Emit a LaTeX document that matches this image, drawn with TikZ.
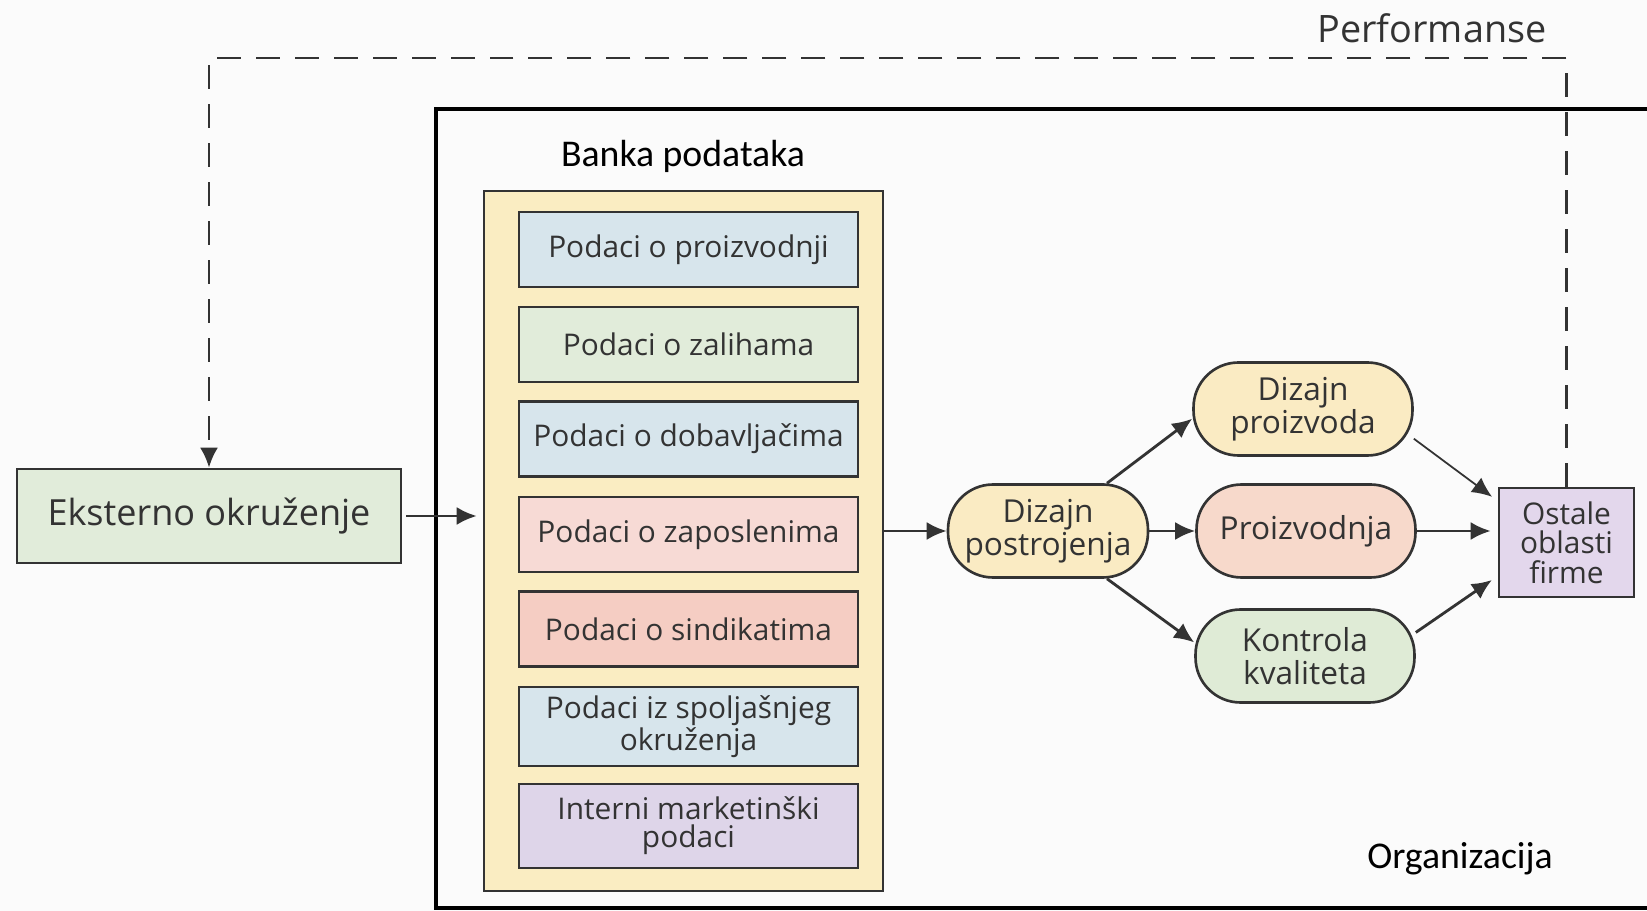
\documentclass[tikz,border=0pt]{standalone}
\usepackage{fontspec}
\setmainfont{Open Sans}
\newfontfamily\labelfont{Carlito}
\usetikzlibrary{arrows.meta,calc}

\definecolor{inkgray}{HTML}{333333}
\definecolor{paper}{HTML}{FBFBFB}
\definecolor{bankyellow}{HTML}{FAEDC2}
\definecolor{dblue}{HTML}{D7E5EC}
\definecolor{dgreen}{HTML}{E1ECDA}
\definecolor{dpink}{HTML}{F7DAD5}
\definecolor{dsalmon}{HTML}{F5CDC3}
\definecolor{dviolet}{HTML}{DED5E9}
\definecolor{pyellow}{HTML}{FAEBC3}
\definecolor{ppeach}{HTML}{F7D9CB}
\definecolor{pgreen}{HTML}{DFEBD6}
\definecolor{pviolet}{HTML}{E3D7EC}

\tikzset{
  databox/.style={draw=inkgray, line width=1.5pt, text=inkgray,
    minimum width=6.78cm, align=center, inner sep=0pt,
    font=\fontsize{17}{16}\selectfont},
  process/.style={draw=inkgray, line width=1.5pt, text=inkgray,
    rounded corners=0.9cm, minimum width=4.38cm, minimum height=1.86cm,
    align=center, inner sep=0pt, font=\fontsize{18}{18.5}\selectfont},
  flow/.style={draw=inkgray, line width=1.6pt,
    -{Latex[length=0.4cm,width=0.36cm]}},
  feedback/.style={flow, dash pattern=on 0.48cm off 0.3cm},
}

\begin{document}
\begin{tikzpicture}[x=0.02cm, y=-0.02cm]
    \pgfmathsetmacro{\bankx}{688.5}
    \pgfmathsetmacro{\topy}{58}
    \fill[paper] (0,0) rectangle (1647,911);
    \useasboundingbox (0,0) rectangle (1647,911);

    % organizacija
    \draw[line width=1.8pt] (1647,109) -- (436,109) -- (436,908) -- (1647,908);
    \node[font=\labelfont\fontsize{21.5}{21.5}\selectfont] (orglabel) at (1460,859) {Organizacija};

    \node[draw=inkgray, line width=1.5pt, fill=dgreen, text=inkgray,
          minimum width=7.68cm, minimum height=1.88cm,
          font=\fontsize{20.5}{20.5}\selectfont] (ext) at (209,516) {Eksterno okruženje};

    % banka podataka
    \node[font=\labelfont\fontsize{21.5}{21.5}\selectfont] (banklabel) at (683,156) {Banka podataka};
    \node[draw=inkgray, line width=1.5pt, fill=bankyellow,
          minimum width=7.98cm, minimum height=14cm] (bank) at (683.5,541) {};
    \foreach \name/\yc/\hh/\col/\txt in {%
        prod/249.5/75/dblue/{Podaci o proizvodnji},
        stock/344.5/75/dgreen/{Podaci o zalihama},
        supp/439/75/dblue/{Podaci o dobavljačima},
        empl/534.5/75/dpink/{Podaci o zaposlenima},
        unio/629/75/dsalmon/{Podaci o sindikatima},
        extd/726.5/79/dblue/{Podaci iz spoljašnjeg\\okruženja},
        mark/826/84/dviolet/{Interni marketinški\\podaci}}
      \node[databox, fill=\col, minimum height=\hh*0.02cm] (\name) at (\bankx,\yc) {\txt};

    % procesi
    \node[process, fill=pyellow, minimum width=4cm] (plant) at (1048,531) {Dizajn\\postrojenja};
    \node[process, fill=pyellow] (design) at (1303,409) {Dizajn\\proizvoda};
    \node[process, fill=ppeach] (produce) at (1306,531) {Proizvodnja};
    \node[process, fill=pgreen] (quality) at (1305,656) {Kontrola\\kvaliteta};
    \node[draw=inkgray, line width=1.5pt, fill=pviolet, text=inkgray,
          minimum width=2.7cm, minimum height=2.18cm, align=center, inner sep=0pt,
          font=\fontsize{17}{16.7}\selectfont] (other) at (1566.5,542.5) {Ostale\\oblasti\\firme};

    \draw[flow, shorten <=0.08cm, shorten >=0.12cm] (ext.east) -- (bank.west |- ext.east);
    \draw[flow] (bank.east |- plant.west) -- (plant.west);
    \draw[flow] (plant.39) -- (design.185);
    \draw[flow] (plant.east) -- (produce.west);
    \draw[flow] (plant.-39) -- (quality.173);
    \draw[flow, line width=1pt, shorten >=0.14cm] (design.-15) -- ([yshift=0.83cm]other.west);
    \draw[flow, shorten >=0.14cm] (produce.east) -- (other.west |- produce.east);
    \draw[flow, shorten >=0.14cm] (quality.12) -- ([yshift=-0.67cm]other.west);

    % performanse
    \coordinate (perf) at (0,\topy);
    \draw[feedback] (other.north) -- (other.north |- perf) -| (ext.north);
    \node[text=inkgray, font=\fontsize{21.5}{21.5}\selectfont] (perflabel) at (1432,28) {Performanse};
  \end{tikzpicture}
\end{document}
